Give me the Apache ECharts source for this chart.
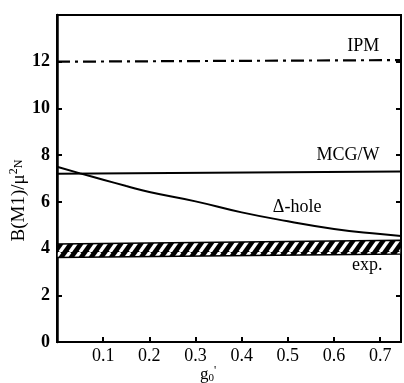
<!DOCTYPE html>
<html>
<head>
<meta charset="utf-8">
<script src="https://cdn.jsdelivr.net/npm/echarts@6/dist/echarts.min.js"></script>
<style>html,body{margin:0;padding:0;background:#fff}#c{width:404px;height:383px}</style>
</head>
<body>
<div id="c"></div>
<script>
// ---- data ----
var ipmX = [0, 0.745];
var ipmY = [12.0, 12.07];
var mcgX = [0, 0.745];
var mcgY = [7.2, 7.3];
var holeX = [0, 0.05, 0.1, 0.15, 0.2, 0.3, 0.4, 0.5, 0.6, 0.7, 0.745];
var holeY = [7.5, 7.22, 6.95, 6.68, 6.42, 6.02, 5.55, 5.17, 4.84, 4.62, 4.54];
var expX = [0, 0.745];
var expLow = [3.62, 3.77];
var expHigh = [4.2, 4.36];
var yTicks = [0, 2, 4, 6, 8, 10, 12];
var xTicks = [0.1, 0.2, 0.3, 0.4, 0.5, 0.6, 0.7];

function zip(a, b) { return a.map(function (v, i) { return [v, b[i]]; }); }

// hatch pattern
var tile = document.createElement('canvas');
tile.width = 10; tile.height = 14;
var g = tile.getContext('2d');
g.fillStyle = '#000'; g.fillRect(0, 0, 10, 14);
g.strokeStyle = '#fff'; g.lineWidth = 3.4;
[-10, 0, 10].forEach(function (o) {
  g.beginPath(); g.moveTo(o, 14); g.lineTo(o + 10, 0); g.stroke();
});

var serif = 'Liberation Serif';
var chart = echarts.init(document.getElementById('c'), null, { renderer: 'canvas' });
var tickLbl = { color: '#000', fontFamily: serif, fontSize: 18 };

function lbl(x, y, text) {
  return {
    symbol: 'circle', symbolSize: 1, itemStyle: { color: 'rgba(0,0,0,0)' },
    label: { show: true, position: 'inside', formatter: text, color: '#000', fontFamily: serif, fontSize: 18 },
    data: [{ coord: [x, y] }]
  };
}

chart.setOption({
  animation: false,
  grid: { left: 57, right: 3, top: 15, bottom: 41, show: true, borderColor: '#000', borderWidth: 2,
          containLabel: false, outerBoundsMode: 'none' },
  xAxis: {
    type: 'value', min: 0, max: 0.745, interval: 0.1,
    name: '{g|g}{s|0}{p|\'}', nameLocation: 'middle', nameGap: 23, nameMoveOverlap: false,
    nameTextStyle: { fontFamily: serif, fontSize: 17, color: '#000', padding: [0, 42, 0, 0], rich: {
      g: { fontFamily: serif, fontSize: 17, color: '#000' },
      s: { fontFamily: serif, fontSize: 11, color: '#000', padding: [6, 0, 0, 0] },
      p: { fontFamily: serif, fontSize: 12, color: '#000', padding: [0, 0, 8, 0] }
    } },
    axisLine: { lineStyle: { color: '#000', width: 2 } },
    axisTick: { inside: true, length: 5, lineStyle: { color: '#000', width: 2 } },
    splitLine: { show: false },
    axisLabel: Object.assign({ margin: 5, showMaxLabel: false, formatter: function (v) {
      var r = Math.round(v * 10) / 10; return xTicks.indexOf(r) >= 0 ? r.toFixed(1) : '';
    } }, tickLbl)
  },
  yAxis: [{
    type: 'value', min: 0, max: 14, interval: 2,
    name: '{a|B(M1)/μ}{b|2}{c|N}', nameLocation: 'middle', nameGap: 27, nameRotate: 90, nameMoveOverlap: false,
    nameTextStyle: { fontFamily: serif, fontSize: 19, color: '#000', padding: [0, 44, 0, 0], rich: {
      a: { fontFamily: serif, fontSize: 19, color: '#000' },
      b: { fontFamily: serif, fontSize: 12, color: '#000', padding: [0, 0, 10, 0] },
      c: { fontFamily: serif, fontSize: 12, color: '#000', padding: [0, 0, 0, 0] }
    } },
    axisLine: { lineStyle: { color: '#000', width: 2.5 } },
    axisTick: { inside: true, length: 5, lineStyle: { color: '#000', width: 2 } },
    splitLine: { show: false },
    axisLabel: Object.assign({ margin: 7, fontWeight: 'bold', formatter: function (v) {
      return yTicks.indexOf(v) >= 0 ? String(v) : '';
    } }, tickLbl)
  }, {
    type: 'value', min: 0, max: 14, interval: 2, position: 'right',
    axisLine: { show: true, lineStyle: { color: '#000', width: 2 } },
    axisTick: { show: true, inside: true, length: 5, lineStyle: { color: '#000', width: 2 } },
    axisLabel: { show: false }, splitLine: { show: false }
  }],
  series: [
    {
      type: 'custom', silent: true, clip: true,
      data: [[expX[0], expLow[0], expHigh[0], expX[1], expLow[1], expHigh[1]]],
      encode: { x: [0, 3], y: [1, 2, 4, 5] },
      renderItem: function (params, api) {
        var pts = [
          api.coord([api.value(0), api.value(1)]),
          api.coord([api.value(3), api.value(4)]),
          api.coord([api.value(3), api.value(5)]),
          api.coord([api.value(0), api.value(2)])
        ];
        return { type: 'polygon', shape: { points: pts },
          style: { fill: { image: tile, repeat: 'repeat' }, stroke: '#000', lineWidth: 1.5 } };
      },
      markPoint: lbl(0.672, 3.3, 'exp.')
    },
    {
      type: 'line', data: zip(ipmX, ipmY), symbol: 'none',
      lineStyle: { color: '#000', width: 2.2, type: [13, 5, 3, 5] },
      markPoint: lbl(0.663, 12.65, 'IPM')
    },
    {
      type: 'line', data: zip(mcgX, mcgY), symbol: 'none',
      lineStyle: { color: '#000', width: 2 },
      markPoint: lbl(0.63, 8.0, 'MCG/W')
    },
    {
      type: 'line', data: zip(holeX, holeY), symbol: 'none', smooth: true,
      lineStyle: { color: '#000', width: 2 },
      markPoint: lbl(0.52, 5.75, 'Δ-hole')
    }
  ]
});
</script>
</body>
</html>
